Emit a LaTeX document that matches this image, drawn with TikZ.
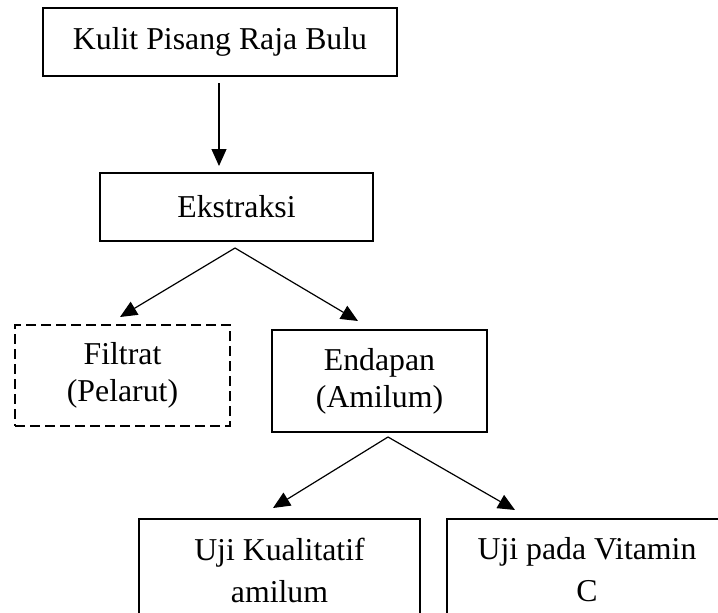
\documentclass[tikz,border=0pt]{standalone}
\usepackage{fontspec}
\setmainfont{Liberation Serif}
\usetikzlibrary{arrows.meta,positioning}

\begin{document}
\begin{tikzpicture}[x=1pt, y=-1pt,
		kotak/.style={draw, line width=2.5pt, inner sep=0pt, align=center,
			font=\fontsize{31.8}{37}\selectfont},
		renggang/.style={font=\fontsize{31.8}{42}\selectfont},
		teks/.style={inner sep=0pt, align=center},
		panah/.style={line width=1.2pt, -{Triangle[length=17pt, width=15pt]}}]
			
			\useasboundingbox (0,0) rectangle (718,613);
			\clip (0,0) rectangle (718,613);
			
			\node[kotak, minimum width=354pt, minimum height=68pt] (kulit) at (220,42) {Kulit Pisang Raja Bulu};
			\node[kotak, minimum width=273pt, minimum height=68pt] (ekstraksi) at (236.5,207) {Ekstraksi};
			
			\node[kotak, dash pattern=on 10pt off 5pt, minimum width=215pt, minimum height=101pt] (filtrat) at (122.5,375.5) {Filtrat\\(Pelarut)};
			\node[kotak, minimum width=215pt, minimum height=102pt] (endapan) at (379.5,381) {Endapan\\(Amilum)};
			
			\node[kotak, renggang, minimum width=281pt, minimum height=102pt] (ujikual) at (279.5,570) {Uji Kualitatif\\amilum};
			\node[kotak, renggang, minimum width=280pt, minimum height=102pt] (ujivit) at (587,570) {Uji pada Vitamin\\C};
			
			% ujung panah
			\coordinate (a0) at (219,83);
			\coordinate (a1) at (219,166);
			\coordinate (b0) at (235,248);
			\coordinate (b1) at (120,317);
			\coordinate (b2) at (358,321);
			\coordinate (c0) at (388,437);
			\coordinate (c1) at (273,508);
			\coordinate (c2) at (515,510);
			
			\draw[panah] (a0) -- (a1);
			\draw[panah] (b0) -- (b1);
			\draw[panah] (b0) -- (b2);
			\draw[panah] (c0) -- (c1);
			\draw[panah] (c0) -- (c2);
		\end{tikzpicture}
\end{document}
